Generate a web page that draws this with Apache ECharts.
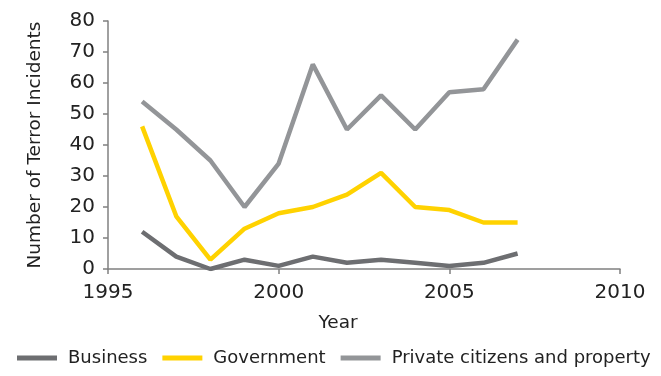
<!DOCTYPE html>
<html>
<head>
<meta charset="utf-8">
<script src="https://cdn.jsdelivr.net/npm/echarts@6/dist/echarts.min.js"></script>
<style>html,body{margin:0;padding:0;background:#fff}#c{width:661px;height:376px}</style>
</head>
<body>
<div id="c"></div>
<script>
var years = [1996,1997,1998,1999,2000,2001,2002,2003,2004,2005,2006,2007];
var business = [12,4,0,3,1,4,2,3,2,1,2,5];
var government = [46,17,3,13,18,20,24,31,20,19,15,15];
var privateCitizens = [54,45,35,20,34,66,45,56,45,57,58,74];
var seriesNames = ['Business','Government','Private citizens and property'];
var xTicks = [1995, 2010, 5];
var yTicks = [0, 80, 10];

function pairs(vals){ return years.map(function(y,i){ return [y, vals[i]]; }); }
var FONT = 'DejaVu Sans';
var chart = echarts.init(document.getElementById('c'));
var colors = ['#6d6e71','#ffd200','#939598'];
var dataSets = [business, government, privateCitizens];
chart.setOption({
  animation:false,
  textStyle:{fontFamily:FONT},
  grid:{left:108,right:41,top:21,bottom:107,containLabel:false},
  legend:{
    top:349,left:17,right:0,width:644,padding:0,itemWidth:40,itemHeight:5,itemGap:15,
    icon:'rect',
    textStyle:{fontFamily:FONT,fontSize:18,color:'#222',padding:[0,0,0,6]},
    data:seriesNames
  },
  xAxis:{
    type:'value',min:xTicks[0],max:xTicks[1],interval:xTicks[2],
    name:'Year',nameLocation:'middle',nameGap:45,
    nameTextStyle:{fontFamily:FONT,fontSize:18.5,color:'#222',padding:[0,52,0,0]},
    axisLine:{lineStyle:{color:'#808080',width:1.5}},
    axisTick:{show:true,length:5,lineStyle:{color:'#808080',width:1.5}},
    axisLabel:{fontFamily:FONT,fontSize:20,color:'#222',margin:14,
      formatter:function(v){return String(v);}},
    splitLine:{show:false}
  },
  yAxis:{
    type:'value',min:yTicks[0],max:yTicks[1],interval:yTicks[2],
    name:'Number of Terror Incidents',nameLocation:'middle',nameGap:63,
    nameTextStyle:{fontFamily:FONT,fontSize:18.5,color:'#222'},
    axisLine:{show:true,lineStyle:{color:'#808080',width:1.5}},
    axisTick:{show:true,length:5,lineStyle:{color:'#808080',width:1.5}},
    axisLabel:{fontFamily:FONT,fontSize:20,color:'#222',margin:13},
    splitLine:{show:false}
  },
  series: seriesNames.map(function(n,i){
    return {name:n,type:'line',data:pairs(dataSets[i]),showSymbol:false,
      color:colors[i],lineStyle:{width:4.5,color:colors[i]}, z: 3-i};
  })
});
</script>
</body>
</html>
